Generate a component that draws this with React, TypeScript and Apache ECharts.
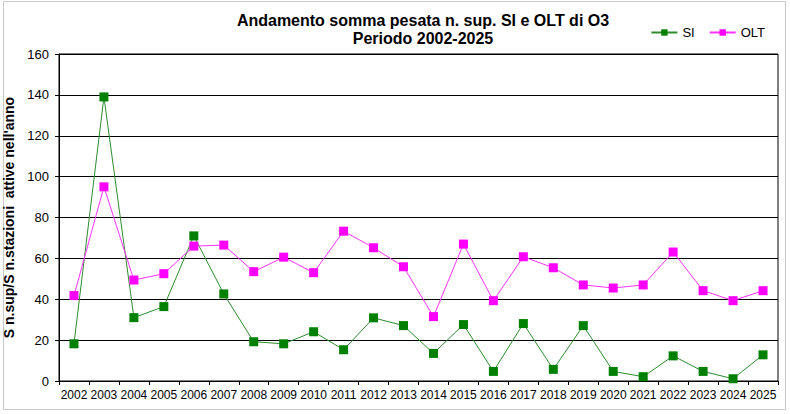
import * as echarts from 'echarts';
import { useEffect, useRef } from 'react';

const years = [
  '2002', '2003', '2004', '2005', '2006', '2007', '2008', '2009', '2010', '2011', '2012', '2013',
  '2014', '2015', '2016', '2017', '2018', '2019', '2020', '2021', '2022', '2023', '2024', '2025'
];

const siValues = [
  18.2, 139, 31, 36.4, 71, 42.6, 19.2, 18.2, 24.1, 15.3, 30.9, 27.1,
  13.5, 27.6, 4.7, 28.1, 5.7, 27.1, 4.7, 2.1, 12.3, 4.7, 1.1, 12.8
];

const oltValues = [
  41.8, 95, 49.4, 52.5, 66, 66.5, 53.5, 60.6, 53, 73.3, 65.2, 55.9,
  31.5, 67, 39.3, 60.8, 55.4, 47, 45.5, 47, 63.1, 44.2, 39.3, 44.2
];

const FONT = '"Liberation Sans", Arial, sans-serif';

export default function App() {
  const chartRef = useRef<HTMLDivElement>(null);

  useEffect(() => {
    if (!chartRef.current) return;
    document.body.style.margin = '0';
    const chart = echarts.init(chartRef.current, null, { renderer: 'svg' });

    chart.setOption({
      animation: false,
      backgroundColor: '#fff',
      textStyle: { fontFamily: FONT },
      title: {
        text: 'Andamento somma pesata n. sup. SI e OLT di O3\nPeriodo 2002-2025',
        left: 418,
        top: 6,
        textAlign: 'center',
        textStyle: {
          fontFamily: FONT,
          fontSize: 16,
          fontWeight: 'bold',
          color: '#000',
          lineHeight: 18
        }
      },
      legend: {
        right: 20,
        top: 21,
        itemWidth: 26,
        itemHeight: 8,
        itemGap: 14,
        textStyle: { fontFamily: FONT, fontSize: 13, color: '#000' },
        data: ['SI', 'OLT']
      },
      graphic: [
        {
          type: 'rect',
          shape: { x: 3.5, y: 1.5, width: 782, height: 408 },
          style: { fill: 'none', stroke: '#c8c8c8', lineWidth: 1 },
          silent: true
        }
      ],
      grid: {
        left: 59,
        right: 12,
        top: 54,
        bottom: 33,
        containLabel: false,
        outerBoundsMode: 'none',
        show: true,
        borderColor: '#000',
        borderWidth: 1
      },
      xAxis: {
        type: 'category',
        data: years,
        boundaryGap: true,
        axisLine: { lineStyle: { color: '#000', width: 1 } },
        axisTick: { show: true, length: 4, lineStyle: { color: '#000' } },
        axisLabel: { color: '#000', fontSize: 12, fontFamily: FONT, margin: 8, interval: 0 }
      },
      yAxis: {
        type: 'value',
        min: 0,
        max: 160,
        interval: 20,
        name: "S n.sup/S n.stazioni  attive nell'anno",
        nameLocation: 'middle',
        nameGap: 42,
        nameTextStyle: { fontFamily: FONT, fontSize: 14, fontWeight: 'bold', color: '#000' },
        axisLine: { show: true, lineStyle: { color: '#000', width: 1 } },
        axisTick: { show: true, length: 4, lineStyle: { color: '#000' } },
        axisLabel: { color: '#000', fontSize: 13, fontFamily: FONT, margin: 10 },
        splitLine: { show: true, lineStyle: { color: '#000', width: 1 } }
      },
      series: [
        {
          name: 'SI',
          type: 'line',
          data: siValues,
          symbol: 'rect',
          symbolSize: 9,
          itemStyle: { color: '#008000' },
          lineStyle: { color: '#2e8b2e', width: 1 }
        },
        {
          name: 'OLT',
          type: 'line',
          data: oltValues,
          symbol: 'rect',
          symbolSize: 9,
          itemStyle: { color: '#ff00ff' },
          lineStyle: { color: '#ff33ff', width: 1 }
        }
      ]
    });

    return () => {
      chart.dispose();
    };
  }, []);

  return <div ref={chartRef} style={{ width: '790px', height: '414px' }} />;
}
